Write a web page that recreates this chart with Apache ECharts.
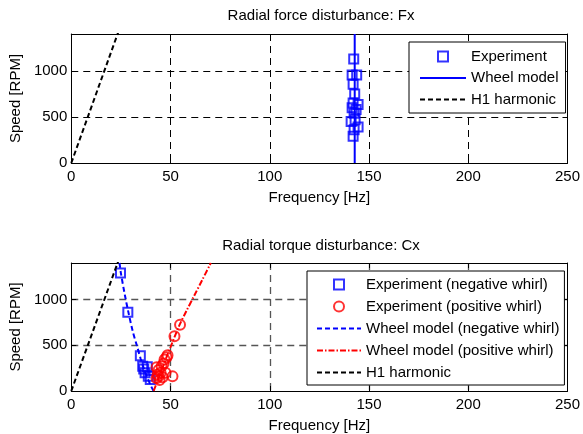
<!DOCTYPE html>
<html><head><meta charset="utf-8">
<script src="https://cdn.jsdelivr.net/npm/echarts@6/dist/echarts.min.js"></script>
<style>html,body{margin:0;padding:0;background:#fff}#c{width:583px;height:434px}</style>
</head><body><div id="c"></div>
<script>
// ---- data ----
const xTicks = [0, 50, 100, 150, 200, 250];
const yTicks = [0, 500, 1000];
// Top: Radial force disturbance Fx  [frequency Hz, speed RPM]
const fxExperiment = [[142.3,1130],[141.5,955],[143.8,955],[142,855],[142.8,750],[142,650],[144.5,635],[141.5,600],[143.5,580],[142.5,540],[141,450],[143,470],[144.5,390],[142.5,360],[142,290]];
const fxWheelModel = [[142.8,0],[142.8,1400]];
const h1Harmonic = [[0,0],[25,1500]];
// Bottom: Radial torque disturbance Cx
const cxExpNegative = [[24.8,1290],[28.5,860],[34.8,385],[36,270],[38.3,265],[36.5,240],[37.2,200],[38.8,160],[39.8,125]];
const cxExpPositive = [[54.8,725],[52,600],[48.5,390],[48,370],[47,345],[46.5,300],[45.5,270],[43,260],[44,230],[45,200],[47.5,200],[44,160],[43.5,180],[46,150],[43,140],[44.5,120],[51,160]];
const cxModelNegative = [[24.3,1400],[25,1290],[27,1050],[28.8,860],[31,650],[33,500],[35,350],[37,220],[39,110],[40.5,40],[41.5,0]];
const cxModelPositive = [[41.5,0],[44,140],[46,255],[48,370],[50,480],[52,590],[54.5,720],[58,875],[62,1045],[66,1215],[70.3,1400]];

const FONT = 'Liberation Sans, Arial, sans-serif';
const FS = 15;
const chart = echarts.init(document.getElementById('c'), null, {renderer: 'canvas'});

function xAx(gi, gridColor, gridW) {
  return [{
    gridIndex: gi, type: 'value', min: xTicks[0], max: xTicks[xTicks.length-1], interval: xTicks[1]-xTicks[0],
    name: 'Frequency [Hz]', nameLocation: 'middle', nameGap: 27,
    nameTextStyle: {fontFamily: FONT, fontSize: FS, color: '#000'},
    axisLine: {show: true, onZero: false, lineStyle: {color: '#000', width: 1}},
    axisTick: {show: true, inside: true, length: 5, lineStyle: {color: '#000'}},
    axisLabel: {fontFamily: FONT, fontSize: FS, color: '#000', margin: 6},
    splitLine: {show: true, showMinLine: false, showMaxLine: false, lineStyle: {color: gridColor, width: gridW, type: [7, 5]}}
  }, {
    gridIndex: gi, type: 'value', position: 'top', min: xTicks[0], max: xTicks[xTicks.length-1], interval: xTicks[1]-xTicks[0],
    axisLine: {show: true, onZero: false, lineStyle: {color: '#000', width: 1}},
    axisTick: {show: true, inside: true, length: 5, lineStyle: {color: '#000'}},
    axisLabel: {show: false}, splitLine: {show: false}
  }];
}
function yAx(gi, gridColor, gridW) {
  return [{
    gridIndex: gi, type: 'value', min: 0, max: 1400, interval: yTicks[1]-yTicks[0],
    name: 'Speed [RPM]', nameLocation: 'middle', nameGap: 43,
    nameTextStyle: {fontFamily: FONT, fontSize: FS, color: '#000'},
    axisLine: {show: true, onZero: false, lineStyle: {color: '#000', width: 1}},
    axisTick: {show: true, inside: true, length: 5, lineStyle: {color: '#000'}},
    axisLabel: {fontFamily: FONT, fontSize: FS, color: '#000', margin: 4, showMaxLabel: false,
                formatter: v => String(v)},
    splitLine: {show: true, showMinLine: false, showMaxLine: false, lineStyle: {color: gridColor, width: gridW, type: [7, 5]}}
  }, {
    gridIndex: gi, type: 'value', position: 'right', min: 0, max: 1400, interval: yTicks[1]-yTicks[0],
    axisLine: {show: true, onZero: false, lineStyle: {color: '#000', width: 1}},
    axisTick: {show: true, inside: true, length: 5, lineStyle: {color: '#000'}},
    axisLabel: {show: false}, splitLine: {show: false}
  }];
}

const legendText = {fontFamily: FONT, fontSize: FS, color: '#000'};
const SQUARE = 'path://M0 0H10V10H0Z';
const noDot = {color: 'rgba(0,0,0,0)', borderWidth: 0};
const sqIcon = {icon: SQUARE, itemStyle: {color: 'rgba(0,0,0,0)', borderColor: '#0000ff', borderWidth: 2}};

chart.setOption({
  animation: false,
  backgroundColor: '#fff',
  title: [
    {text: 'Radial force disturbance: Fx', left: 321, top: 8, padding: 0, textAlign: 'center',
     textStyle: {fontFamily: FONT, fontSize: FS, fontWeight: 'normal', color: '#000'}},
    {text: 'Radial torque disturbance: Cx', left: 321, top: 238, padding: 0, textAlign: 'center',
     textStyle: {fontFamily: FONT, fontSize: FS, fontWeight: 'normal', color: '#000'}}
  ],
  grid: [
    {left: 71, top: 34, width: 500, height: 129, show: false},
    {left: 71, top: 263, width: 500, height: 129, show: false}
  ],
  xAxis: [...xAx(0, '#000', 1), ...xAx(1, '#555', 1.3)],
  yAxis: [...yAx(0, '#000', 1), ...yAx(1, '#555', 1.3)],
  legend: [
    {left: 409, top: 42, orient: 'vertical', itemWidth: 46, itemHeight: 10, itemGap: 6.5,
     padding: [7, 7, 6, 10], backgroundColor: '#fff', borderColor: '#000', borderWidth: 1,
     textStyle: legendText, selectedMode: false,
     data: [Object.assign({name: 'Experiment'}, sqIcon),
            {name: 'Wheel model', itemStyle: noDot},
            {name: 'H1 harmonic', itemStyle: noDot}]},
    {left: 307, top: 271, orient: 'vertical', itemWidth: 44, itemHeight: 10, itemGap: 7,
     padding: [6, 5, 5, 9], backgroundColor: '#fff', borderColor: '#000', borderWidth: 1,
     textStyle: legendText, selectedMode: false,
     data: [Object.assign({name: 'Experiment (negative whirl)'}, sqIcon),
            {name: 'Experiment (positive whirl)'},
            {name: 'Wheel model (negative whirl)', itemStyle: noDot},
            {name: 'Wheel model (positive whirl)', itemStyle: noDot},
            {name: 'H1 harmonic ', itemStyle: noDot}]}
  ],
  series: [
    {name: 'H1 harmonic', type: 'line', xAxisIndex: 0, yAxisIndex: 0, data: h1Harmonic, symbol: 'none',
     lineStyle: {color: '#000', width: 2, type: [5, 3]}, itemStyle: {color: '#000'}},
    {name: 'Wheel model', type: 'line', xAxisIndex: 0, yAxisIndex: 0, data: fxWheelModel, symbol: 'none',
     lineStyle: {color: '#0000ff', width: 2}, itemStyle: {color: '#0000ff'}},
    {name: 'Experiment', type: 'scatter', xAxisIndex: 0, yAxisIndex: 0, data: fxExperiment, symbol: 'rect', symbolSize: 9,
     itemStyle: {color: 'rgba(0,0,0,0)', borderColor: '#0000ff', borderWidth: 2}},

    {name: 'H1 harmonic ', type: 'line', xAxisIndex: 2, yAxisIndex: 2, data: h1Harmonic, symbol: 'none',
     lineStyle: {color: '#000', width: 2, type: [5, 3]}, itemStyle: {color: '#000'}},
    {name: 'Wheel model (negative whirl)', type: 'line', xAxisIndex: 2, yAxisIndex: 2, data: cxModelNegative, symbol: 'none', smooth: 0.3,
     lineStyle: {color: '#0000ff', width: 2, type: [5, 3]}, itemStyle: {color: '#0000ff'}},
    {name: 'Wheel model (positive whirl)', type: 'line', xAxisIndex: 2, yAxisIndex: 2, data: cxModelPositive, symbol: 'none', smooth: 0.3,
     lineStyle: {color: '#ff0000', width: 2, type: [6, 2, 1.5, 2]}, itemStyle: {color: '#ff0000'}},
    {name: 'Experiment (negative whirl)', type: 'scatter', xAxisIndex: 2, yAxisIndex: 2, data: cxExpNegative, symbol: 'rect', symbolSize: 9,
     itemStyle: {color: 'rgba(0,0,0,0)', borderColor: '#0000ff', borderWidth: 2}},
    {name: 'Experiment (positive whirl)', type: 'scatter', xAxisIndex: 2, yAxisIndex: 2, data: cxExpPositive, symbol: 'circle', symbolSize: 10,
     itemStyle: {color: 'rgba(0,0,0,0)', borderColor: '#ff0000', borderWidth: 2}}
  ]
});
</script></body></html>
